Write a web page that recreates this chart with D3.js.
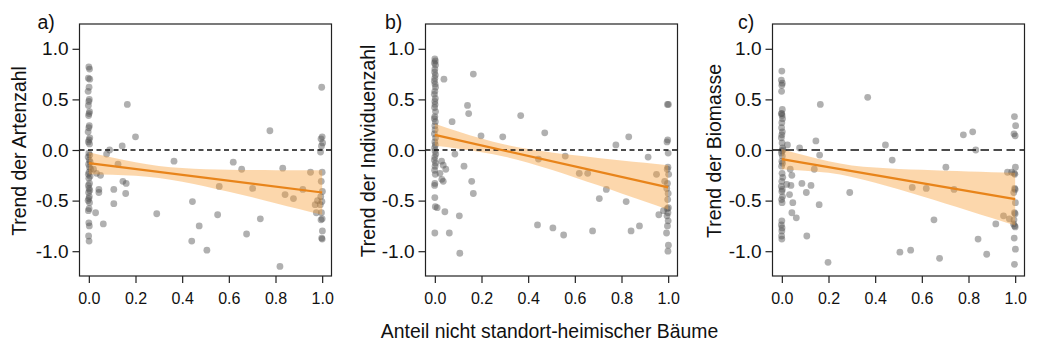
<!DOCTYPE html>
<html><head><meta charset="utf-8">
<script src="https://cdn.jsdelivr.net/npm/d3@7"></script>
<style>body{margin:0;background:#fff}svg{display:block}text{font-family:"Liberation Sans",Arial,sans-serif;fill:#111}</style>
</head><body>
<svg id="chart" width="1040" height="359"></svg>
<script>
// ---------- data ----------
const xTicks = [0, 0.2, 0.4, 0.6, 0.8, 1.0];
const yTicks = [-1.0, -0.5, 0.0, 0.5, 1.0];
const panelLabels = ["a)", "b)", "c)"];
const yTitles = ["Trend der Artenzahl", "Trend der Individuenzahl", "Trend der Biomasse"];
const xTitle = "Anteil nicht standort-heimischer Bäume";

const aX = [
 0.000,0.003,-0.002,0.004,0.001,-0.003,0.002,0.000,-0.002,0.003,
 0.001,-0.001,0.002,0.000,-0.003,0.004,0.001,-0.002,0.003,0.000,
 0.004,-0.003,0.002,0.006,-0.001,0.003,0.008,0.001,-0.002,0.005,
 0.000,0.003,-0.002,0.001,0.004,-0.001,0.002,0.000,-0.003,0.003,
 0.001,-0.002,0.000,0.002,-0.001,0.001,
 0.029,0.062,0.043,0.043,0.050,0.020,0.033,0.076,0.089,0.107,
 0.107,0.125,0.143,0.146,0.160,0.165,0.158,0.200,0.291,0.365,
 0.441,0.444,0.473,0.506,0.552,0.559,0.619,0.655,0.676,0.702,
 0.735,0.776,0.819,0.831,0.841,0.877,0.917,0.950,0.970,0.975,
 0.980,
 0.998,1.000,0.995,1.002,0.997,0.993,1.000,0.996,1.001,0.994,
 0.999,0.992,0.997,1.000,0.995,1.001,0.998,1.000
];
const aY = [
 0.82,0.80,0.71,0.70,0.62,0.58,0.50,0.48,0.44,0.38,
 0.36,0.34,0.24,0.22,0.18,0.12,0.10,0.08,0.06,-0.03,
 -0.05,-0.07,-0.10,-0.12,-0.14,-0.17,-0.19,-0.22,-0.24,-0.26,
 -0.28,-0.33,-0.35,-0.38,-0.40,-0.42,-0.46,-0.48,-0.50,-0.52,
 -0.58,-0.60,-0.72,-0.75,-0.85,-0.90,
 -0.62,-0.73,-0.42,-0.39,-0.25,-0.19,-0.23,-0.04,0.00,-0.39,
 -0.53,-0.14,0.04,-0.31,-0.33,0.45,-0.43,0.13,-0.63,-0.11,
 -0.90,-0.51,-0.75,-0.99,-0.64,-0.36,-0.12,-0.19,-0.83,-0.38,
 -0.68,0.19,-1.15,-0.18,-0.44,-0.48,-0.39,-0.22,-0.54,-0.62,
 -0.50,
 0.62,0.13,0.11,0.07,0.04,-0.02,-0.22,-0.31,-0.41,-0.46,
 -0.51,-0.54,-0.62,-0.68,-0.69,-0.80,-0.87,-0.88
];

const bX = [
 0.000,0.002,-0.002,0.003,0.000,-0.001,0.002,0.000,-0.002,0.001,
 0.003,0.000,-0.002,0.002,0.000,0.001,-0.001,0.003,0.000,-0.002,
 0.002,0.000,0.001,-0.002,0.003,0.000,0.002,-0.001,0.001,0.004,
 0.000,-0.002,0.003,0.001,-0.001,0.002,0.000,-0.001,0.000,0.002,
 0.000,
 0.010,0.043,0.039,0.062,0.074,0.086,0.029,0.036,0.047,0.036,
 0.022,0.030,0.105,0.107,0.125,0.140,0.145,0.158,0.165,0.165,
 0.198,0.291,0.368,0.440,0.444,0.471,0.506,0.552,0.559,0.619,
 0.655,0.676,0.705,0.735,0.776,0.820,0.831,0.841,0.877,0.914,
 0.950,0.960,0.985,0.980,
 0.997,1.001,0.998,0.995,1.000,0.999,0.996,1.002,0.997,0.994,
 1.000,0.998,1.001,0.996,0.999,0.995,1.000,0.997,0.993,1.001,0.999
];
const bY = [
 0.90,0.88,0.86,0.84,0.80,0.77,0.74,0.71,0.68,0.65,
 0.62,0.58,0.55,0.51,0.48,0.45,0.42,0.38,0.33,0.31,
 0.28,0.24,0.20,0.16,0.12,0.08,0.05,0.02,-0.01,-0.04,
 -0.07,-0.10,-0.13,-0.16,-0.20,-0.24,-0.33,-0.35,-0.47,-0.56,
 -0.82,
 -0.57,-0.61,0.70,-0.82,0.28,-0.04,-0.11,-0.15,-0.19,-0.31,
 -0.23,-0.29,-0.65,-1.02,-0.16,0.44,0.36,-0.31,-0.43,0.75,
 0.14,0.13,0.34,-0.74,-0.09,0.17,-0.77,-0.84,-0.06,-0.23,
 -0.23,-0.80,-0.48,-0.39,0.05,-0.51,0.13,-0.80,-0.75,-0.07,
 -0.24,-0.64,-0.31,-0.60,
 0.45,0.45,0.10,0.08,-0.03,-0.17,-0.19,-0.24,-0.33,-0.38,
 -0.43,-0.49,-0.57,-0.58,-0.62,-0.65,-0.70,-0.75,-0.82,-0.94,-1.00
];

const cX = [
 0.000,-0.002,0.002,0.000,-0.001,0.002,0.000,-0.002,0.001,0.003,
 0.000,-0.001,0.002,0.000,-0.002,0.001,0.003,0.005,0.000,-0.002,
 0.002,0.000,0.003,-0.001,0.001,0.004,0.000,-0.002,0.002,0.000,
 0.003,-0.001,0.001,0.000,-0.002,0.001,0.000,-0.001,0.000,
 0.024,0.036,0.043,0.021,0.039,0.033,0.047,0.043,0.062,0.076,
 0.086,0.105,0.107,0.125,0.139,0.146,0.160,0.162,0.165,0.198,
 0.291,0.368,0.444,0.473,0.506,0.552,0.559,0.619,0.652,0.676,
 0.703,0.738,0.778,0.818,0.831,0.841,0.878,0.917,0.950,0.967,
 0.985,0.975,
 0.997,1.002,0.995,1.000,1.001,0.996,0.999,0.998,1.000,0.994,
 1.001,0.997,1.000,0.995,0.993,0.998,1.000,0.996,1.001,0.997
];
const cY = [
 0.78,0.69,0.66,0.64,0.58,0.40,0.36,0.36,0.34,0.31,
 0.27,0.22,0.18,0.15,0.12,0.07,0.02,0.00,-0.01,-0.03,
 -0.06,-0.11,-0.13,-0.16,-0.23,-0.27,-0.31,-0.36,-0.39,-0.41,
 -0.46,-0.49,-0.52,-0.70,-0.74,-0.77,-0.80,-0.85,-0.88,
 0.05,-0.19,-0.25,-0.34,-0.35,-0.44,-0.52,-0.62,-0.67,0.02,
 -0.33,-0.42,-0.85,-0.35,-0.19,0.09,-0.54,-0.05,0.45,-1.11,
 -0.42,0.52,0.05,-0.10,-1.01,-0.99,-0.37,-0.38,-0.69,-1.07,
 -0.17,-0.39,0.15,0.18,0.00,-0.88,-1.03,-0.73,-0.65,-0.22,
 -0.22,-0.68,
 0.33,0.24,0.16,0.14,-0.17,-0.23,-0.24,-0.38,-0.39,-0.42,
 -0.52,-0.62,-0.63,-0.69,-0.73,-0.75,-0.76,-0.87,-0.98,-1.13
];

// regression lines (at x = 0 and x = 1) and confidence bands
const lineX = [0, 1];
const aLine = [-0.13, -0.42];
const bLine = [0.15, -0.37];
const cLine = [-0.09, -0.485];
const bandX = [0, 0.1, 0.2, 0.3, 0.4, 0.5, 0.6, 0.7, 0.8, 0.9, 1.0];
const aLo = [-0.239,-0.244,-0.255,-0.277,-0.313,-0.360,-0.413,-0.468,-0.525,-0.582,-0.640];
const aHi = [-0.021,-0.074,-0.121,-0.157,-0.179,-0.190,-0.195,-0.198,-0.199,-0.200,-0.200];
const bLo = [0.041,0.013,-0.021,-0.066,-0.125,-0.195,-0.271,-0.349,-0.429,-0.509,-0.590];
const bHi = [0.259,0.183,0.113,0.054,0.009,-0.025,-0.053,-0.079,-0.103,-0.127,-0.150];
const cLo = [-0.191,-0.205,-0.226,-0.266,-0.323,-0.389,-0.458,-0.529,-0.600,-0.673,-0.745];
const cHi = [0.011,-0.055,-0.112,-0.152,-0.173,-0.187,-0.196,-0.205,-0.212,-0.219,-0.225];

// ---------- layout ----------
const W = 1040, H = 359;
const plotTop = 24, plotBottom = 276, boxW = 252;
const panels = [
  {x:aX, y:aY, line:aLine, lo:aLo, hi:aHi, left:79.5, labelX:37.5, titleX:26, dash:"5,3.5"},
  {x:bX, y:bY, line:bLine, lo:bLo, hi:bHi, left:425.5, labelX:385, titleX:374.5, dash:"5,3.5"},
  {x:cX, y:cY, line:cLine, lo:cLo, hi:cHi, left:772.5, labelX:738, titleX:721, dash:"8.5,4.5"}
];

const svg = d3.select("#chart");
svg.append("rect").attr("width", W).attr("height", H).attr("fill", "#fff");

panels.forEach((p, i) => {
  const x = d3.scaleLinear().domain([-0.04, 1.04]).range([p.left, p.left + boxW]);
  const y = d3.scaleLinear().domain([-1.245, 1.245]).range([plotBottom, plotTop]);
  const g = svg.append("g");

  // points
  g.append("g").selectAll("circle")
    .data(d3.range(p.x.length))
    .join("circle")
    .attr("cx", k => x(p.x[k]))
    .attr("cy", k => y(p.y[k]))
    .attr("r", 3.4)
    .attr("fill", "#505050")
    .attr("fill-opacity", 0.45);

  // confidence band
  const area = d3.area()
    .x((d, k) => x(bandX[k]))
    .y0((d, k) => y(p.lo[k]))
    .y1((d, k) => y(p.hi[k]))
    .curve(d3.curveMonotoneX);
  g.append("path").datum(bandX).attr("d", area)
    .attr("fill", "#f9a03a").attr("fill-opacity", 0.42);

  // zero reference line
  g.append("line")
    .attr("x1", p.left).attr("x2", p.left + boxW)
    .attr("y1", y(0)).attr("y2", y(0))
    .attr("stroke", "#111").attr("stroke-width", 1.3)
    .attr("stroke-dasharray", p.dash);

  // regression line
  const ln = d3.line().x((d, k) => x(lineX[k])).y(d => y(d));
  g.append("path").datum(p.line).attr("d", ln)
    .attr("fill", "none").attr("stroke", "#e8841a").attr("stroke-width", 2.2);

  // box
  g.append("rect")
    .attr("x", p.left).attr("y", plotTop).attr("width", boxW).attr("height", plotBottom - plotTop)
    .attr("fill", "none").attr("stroke", "#222").attr("stroke-width", 1.2);

  // axes
  const fmt = d => d.toFixed(1);
  const xa = g.append("g").attr("transform", `translate(0,${plotBottom})`)
    .call(d3.axisBottom(x).tickValues(xTicks).tickFormat(fmt).tickSize(7).tickPadding(10));
  xa.select(".domain").remove();
  xa.selectAll("line").attr("stroke", "#222").attr("stroke-width", 1.2);
  xa.selectAll("text").attr("font-size", "16px").attr("fill", "#111")
    .attr("font-family", '"Liberation Sans",Arial,sans-serif');

  const ya = g.append("g").attr("transform", `translate(${p.left},0)`)
    .call(d3.axisLeft(y).tickValues(yTicks).tickFormat(fmt).tickSize(7).tickPadding(4));
  ya.select(".domain").remove();
  ya.selectAll("line").attr("stroke", "#222").attr("stroke-width", 1.2);
  ya.selectAll("text").attr("font-size", "19px").attr("fill", "#111")
    .attr("font-family", '"Liberation Sans",Arial,sans-serif');

  // panel label
  g.append("text").attr("x", p.labelX).attr("y", 29)
    .attr("font-size", "19.5px").text(panelLabels[i]);

  // y title
  g.append("text")
    .attr("transform", `translate(${p.titleX},${(plotTop + plotBottom) / 2 + 1}) rotate(-90)`)
    .attr("text-anchor", "middle").attr("font-size", "19.4px")
    .text(yTitles[i]);
});

svg.append("text").attr("x", 549.5).attr("y", 338)
  .attr("text-anchor", "middle").attr("font-size", "19.4px").text(xTitle);
</script>
</body></html>
